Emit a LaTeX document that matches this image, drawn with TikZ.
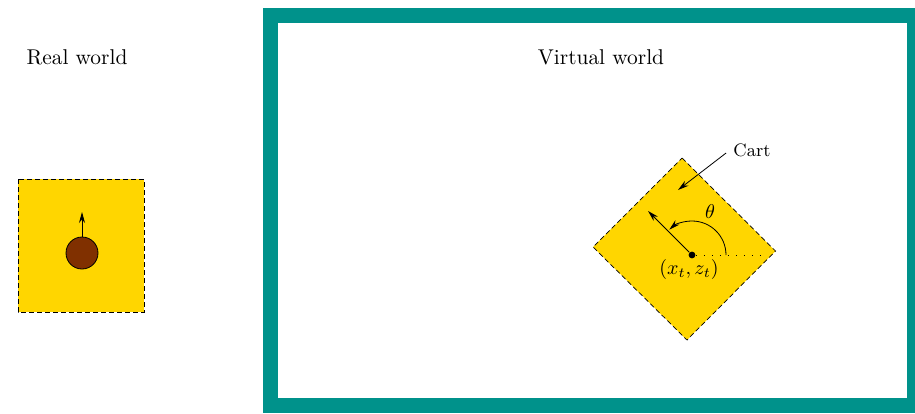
\documentclass[tikz,border=0pt]{standalone}
\usetikzlibrary{arrows.meta}
\definecolor{frameteal}{RGB}{0,146,139}
\definecolor{cartyellow}{RGB}{255,214,0}
\definecolor{robotbrown}{RGB}{128,48,0}
\begin{document}
\begin{tikzpicture}[x=0.5pt,y=-0.5pt,
  area/.style={fill=cartyellow,draw=black,line width=0.35pt,dash pattern=on 2.5pt off 1.5pt},
  arr/.style={-{Stealth[length=5.5pt,width=3pt]},line width=0.4pt},
  title/.style={font=\fontsize{10.7}{12}\selectfont,inner sep=0pt},
  lbl/.style={inner sep=0pt}]
\useasboundingbox (0,0) rectangle (915,413);
\clip (0,0) rectangle (915,413);
% frame
\draw[frameteal,line width=7.5pt] (270.5,15.5) rectangle (914.5,405);
% titles
\node[title] (real) at (77,57) {Real world};
\node[title] (virt) at (601,57) {Virtual world};
% real world cart
\draw[area] (18,179) rectangle (144,312);
\node[circle,fill=robotbrown,draw=black,line width=0.4pt,minimum size=16pt,inner sep=0pt] (robot) at (82,253) {};
\coordinate (rhead) at (82,212);
\draw[arr] (robot.north) -- (rhead);
% virtual cart
\coordinate (dt) at (682,158);
\coordinate (dl) at (593,247);
\coordinate (db) at (687,340);
\coordinate (dr) at (775.5,251);
\draw[area] (dt) -- (dr) -- (db) -- (dl) -- cycle;
\node[circle,fill=black,inner sep=0pt,minimum size=3.4pt] (pos) at (692,255) {};
\coordinate (head) at (648,211);
\coordinate (dotend) at (762,255);
\draw[line width=0.5pt,dash pattern=on 0.5pt off 3.5pt] (pos) -- (dotend);
\draw[arr] (pos) -- (head);
\draw[arr] (726,255) arc[start angle=0,end angle=-132,radius=34];
\node[lbl] (theta) at (710,212) {$\theta$};
\node[lbl] (xz) at (689,269) {$(x_t,z_t)$};
\node[lbl,font=\small] (cart) at (752,150) {Cart};
\coordinate (carttip) at (678,190);
\draw[arr] (cart.west) ++(-7,3) -- (carttip);
\end{tikzpicture}
\end{document}
